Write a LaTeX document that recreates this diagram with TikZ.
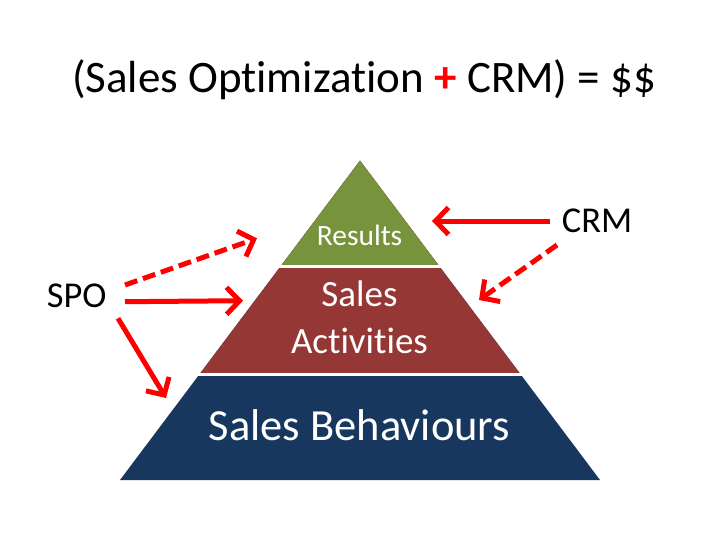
\documentclass[tikz,border=0pt]{standalone}
\usepackage{fontspec}
\setmainfont{Carlito}[Ligatures=NoCommon]
\usetikzlibrary{arrows.meta}
\definecolor{pgreen}{HTML}{77933C}
\definecolor{pred}{HTML}{953735}
\definecolor{pblue}{HTML}{17375E}
\definecolor{arrred}{HTML}{FF0000}
\tikzset{
  lbl/.style={anchor=base, inner sep=0pt, text=black},
  intext/.style={anchor=base, inner sep=0pt, text=white},
  redarrow/.style={draw=arrred, line width=5pt, -{Straight Barb[length=13pt,width=27pt]}},
  dasharrow/.style={redarrow, dash pattern=on 13pt off 6pt},
  sep/.style={draw=white, line width=3pt}
}
\begin{document}
\begin{tikzpicture}[x=1pt,y=-1pt]
\useasboundingbox (0,0) rectangle (728,546);
\fill[white] (0,0) rectangle (728,546);
% pyramid bands
\fill[pblue] (360,160.7) -- (600,480) -- (120,480) -- cycle;
\fill[pred] (360,160.7) -- (520.3,374) -- (199.7,374) -- cycle;
\fill[pgreen] (360,160.7) -- (439.1,266) -- (280.9,266) -- cycle;
\draw[sep] (195,266) -- (525,266);
\draw[sep] (150,374) -- (570,374);
% title
\node[lbl] (title) at (364,92) {\fontsize{45}{50}\selectfont (Sales Optimization {\bfseries\color{arrred}+} CRM) = \$\$};
% pyramid texts
\node[intext] (res) at (359.5,245) {\fontsize{29.5}{34}\selectfont Results};
\node[intext] (act1) at (359.5,306.7) {\fontsize{37}{42}\selectfont Sales};
\node[intext] (act2) at (359.5,353.3) {\fontsize{37}{42}\selectfont Activities};
\node[intext] (beh) at (359.5,440) {\fontsize{44.5}{50}\selectfont Sales Behaviours};
% side labels
\node[lbl, anchor=base west] (spo) at (46.7,307.3) {\fontsize{36.4}{42}\selectfont SPO};
\node[lbl, anchor=base west] (crm) at (561.7,232.3) {\fontsize{36.4}{42}\selectfont CRM};
% arrow end points
\coordinate (s1) at (125,285);
\coordinate (t1) at (257,238.3);
\coordinate (s2) at (125,301.7);
\coordinate (t2) at (243,300.7);
\coordinate (s3) at (118,318.3);
\coordinate (t3) at (166,398);
\coordinate (c1) at (550,221);
\coordinate (u1) at (432,221);
\coordinate (c2) at (557,245);
\coordinate (u2) at (479,300);
% arrows
\draw[dasharrow] (s1) -- (t1);
\draw[redarrow] (s2) -- (t2);
\draw[redarrow] (s3) -- (t3);
\draw[redarrow] (c1) -- (u1);
\draw[dasharrow] (c2) -- (u2);
\end{tikzpicture}
\end{document}
